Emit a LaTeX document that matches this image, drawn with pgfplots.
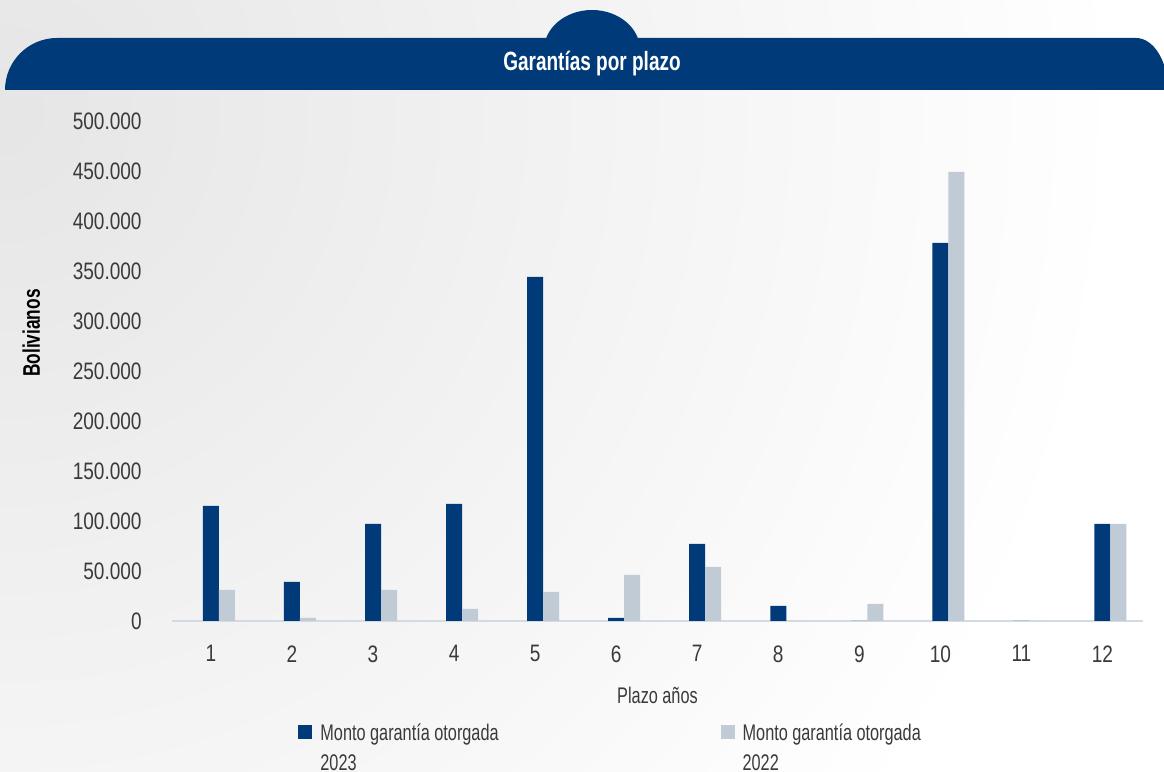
\documentclass[border=0pt]{standalone}
\usepackage{fontspec}
\setmainfont{Liberation Sans}[FakeStretch=0.8]
\newfontfamily\narrowfont{Liberation Sans}[FakeStretch=0.72]
\usepackage{pgfplots}
\usepackage{pgfplotstable}
\pgfplotsset{compat=1.18}

\definecolor{bfblue}{HTML}{003A78}
\definecolor{bfgray}{HTML}{C1CBD5}
\definecolor{axisgray}{HTML}{D3DAE2}
\definecolor{labelgray}{HTML}{3A3A3A}

% Monto de garantías otorgadas (Bs) por plazo en años
\pgfplotstableread{
plazo m2023  m2022
1     115000 31000
2     39000  3000
3     97000  31000
4     117000 12000
5     344000 29000
6     3000   46000
7     77000  54000
8     15000  0
9     0      17000
10    378000 449000
11    0      0
12    97000  97000
}\garantias

\begin{document}
\begin{tikzpicture}
\path[use as bounding box] (0,0) rectangle (582pt,386pt);
\begin{scope}
  \clip (0,0) rectangle (582pt,386pt);
  \fill[white] (0,0) rectangle (582pt,386pt);
  \shade[inner color=black!10, outer color=white] (0pt,330pt) circle (560pt);
  % banda del título
  \fill[bfblue] (2.5pt,341pt) arc[start angle=180,end angle=90,radius=26pt]
     -- (568pt,367pt) arc[start angle=90,end angle=0,x radius=16pt,y radius=26pt] -- cycle;
  \fill[bfblue] (296pt,361pt) ellipse[x radius=24pt,y radius=20pt];
  \node[white, font=\narrowfont\fontsize{13.2}{15}\selectfont\bfseries] at (296pt,354pt) {Garantías por plazo};
\end{scope}

\begin{axis}[
  at={(86pt,75.5pt)}, anchor=south west,
  scale only axis, width=485.5pt, height=250pt,
  xmin=0.52, xmax=12.5, ymin=0, ymax=500000,
  ybar, bar width=8pt,
  axis x line*=bottom, axis y line*=left,
  x axis line style={draw=axisgray, line width=1pt, -},
  y axis line style={draw=none},
  major tick length=0pt,
  xtick={1,...,12}, ytick={0,50000,...,500000},
  scaled y ticks=false,
  ticklabel style={font=\fontsize{11.9}{13}\selectfont, text=labelgray,
    /pgf/number format/fixed, /pgf/number format/precision=0,
    /pgf/number format/1000 sep={.}, /pgf/number format/assume math mode=true},
  yticklabel style={anchor=east, inner sep=0pt, xshift=-15pt},
  xticklabel style={anchor=north, inner sep=0pt, yshift=-12pt},
  xlabel={Plazo años},
  xlabel style={at={(axis description cs:0.5,-0.148)}, anchor=center,
    font=\narrowfont\fontsize{11.3}{13}\selectfont, text=labelgray},
  ylabel={Bolivianos},
  ylabel style={at={(axis description cs:-0.145,0.576)}, anchor=center,
    font=\narrowfont\fontsize{12}{14}\selectfont\bfseries, text=black},
  legend columns=2,
  legend cell align=left,
  % cuadro alineado con la primera línea del texto de dos líneas
  legend image code/.code={%
    \path[draw=none, fill=none] (0pt,-11.5pt) -- (0pt,11.5pt);
    \fill[#1] (0pt,4.5pt) rectangle (7pt,11.5pt);},
  legend style={at={(axis description cs:0.1298,-0.196)}, anchor=north west,
    draw=none, fill=none, inner sep=0pt,
    font=\narrowfont\fontsize{11.3}{15}\selectfont, text=labelgray,
    cells={align=left},
    /tikz/every odd column/.append style={column sep=2pt},
    /tikz/every even column/.append style={column sep=109pt}},
]
\addplot[fill=bfblue, draw=none, bar shift=0pt] table[x=plazo, y=m2023] {\garantias};
\addlegendentry{Monto garantía otorgada\\2023}
\addplot[fill=bfgray, draw=none, bar shift=8pt] table[x=plazo, y=m2022] {\garantias};
\addlegendentry{Monto garantía otorgada\\2022}
\end{axis}
\end{tikzpicture}
\end{document}
